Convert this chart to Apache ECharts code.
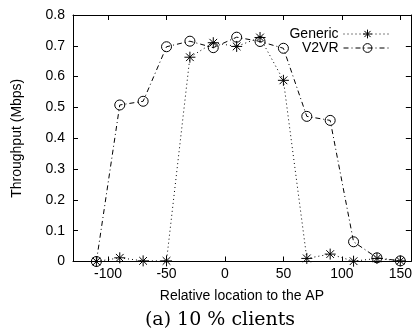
<!DOCTYPE html>
<html>
<head>
<meta charset="utf-8">
<script src="https://cdn.jsdelivr.net/npm/echarts@6/dist/echarts.min.js"></script>
<style>
  html, body { margin: 0; padding: 0; background: #fff; }
  #chart { width: 415px; height: 331px; }
</style>
</head>
<body>
<div id="chart"></div>
<script>
// relative location to the AP
var locations = [-110, -90, -70, -50, -30, -10, 10, 30, 50, 70, 90, 110, 130, 150];
// throughput (Mbps)
var generic = [0, 0.012, 0.002, 0.002, 0.663, 0.710, 0.698, 0.727, 0.588, 0.010, 0.024, 0.001, 0.010, 0.002];
var v2vr = [0, 0.508, 0.520, 0.697, 0.715, 0.694, 0.728, 0.714, 0.692, 0.471, 0.458, 0.064, 0.012, 0.002];
var xTicks = [-100, -50, 0, 50, 100, 150];

function pairs(ys) {
    return locations.map(function (x, i) { return [x, ys[i]]; });
}

var font = 'Liberation Sans';
var star = 'path://M0,-10L0,10M-10,0L10,0M-7,-7L7,7M-7,7L7,-7';

var myChart = echarts.init(document.getElementById('chart'));
var option = {
    animation: false,
    grid: { left: 73, top: 15, width: 340, height: 246.5 },
    legend: {
        orient: 'vertical',
        right: 18,
        top: 22,
        align: 'right',
        itemWidth: 48,
        itemHeight: 11,
        itemGap: 0,
        itemStyle: { color: 'rgba(0,0,0,0)', borderColor: '#000', borderWidth: 1 },
        lineStyle: { width: 1 },
        textStyle: { fontFamily: font, fontSize: 14, color: '#000' },
        data: ['Generic', 'V2VR']
    },
    xAxis: [{
        type: 'value', min: -130, max: 159,
        name: 'Relative location to the AP', nameLocation: 'middle', nameGap: 28,
        nameTextStyle: { fontFamily: font, fontSize: 14, color: '#000' },
        axisLine: { onZero: false, lineStyle: { color: '#000', width: 1 } },
        axisTick: { inside: true, length: 5, customValues: xTicks, lineStyle: { color: '#000' } },
        axisLabel: { customValues: xTicks, margin: 6, fontFamily: font, fontSize: 14, color: '#000' },
        splitLine: { show: false }
    }, {
        type: 'value', min: -130, max: 159, position: 'top',
        axisLine: { onZero: false, lineStyle: { color: '#000', width: 1 } },
        axisTick: { inside: true, length: 5, customValues: xTicks, lineStyle: { color: '#000' } },
        axisLabel: { show: false },
        splitLine: { show: false }
    }],
    yAxis: [{
        type: 'value', min: 0, max: 0.8, interval: 0.1,
        name: 'Throughput (Mbps)', nameLocation: 'middle', nameGap: 49,
        nameTextStyle: { fontFamily: font, fontSize: 14, color: '#000' },
        axisLine: { show: true, onZero: false, lineStyle: { color: '#000', width: 1 } },
        axisTick: { show: true, inside: true, length: 5, lineStyle: { color: '#000' } },
        axisLabel: { margin: 8, fontFamily: font, fontSize: 14, color: '#000' },
        splitLine: { show: false }
    }, {
        type: 'value', min: 0, max: 0.8, interval: 0.1, position: 'right',
        axisLine: { show: true, onZero: false, lineStyle: { color: '#000', width: 1 } },
        axisTick: { show: true, inside: true, length: 5, lineStyle: { color: '#000' } },
        axisLabel: { show: false },
        splitLine: { show: false }
    }],
    graphic: [{
        type: 'text', x: 220, y: 320,
        style: { text: '(a) 10 % clients', font: '19px "DejaVu Serif"', fill: '#000', align: 'center', verticalAlign: 'middle' }
    }],
    series: [{
        name: 'Generic', type: 'line', data: pairs(generic),
        symbol: star, symbolSize: 11,
        itemStyle: { color: '#000', borderColor: '#000', borderWidth: 1 },
        lineStyle: { color: '#000', width: 1, type: [1, 3] }
    }, {
        name: 'V2VR', type: 'line', data: pairs(v2vr),
        symbol: 'circle', symbolSize: 10,
        itemStyle: { color: 'rgba(0,0,0,0)', borderColor: '#000', borderWidth: 1 },
        lineStyle: { color: '#000', width: 1, type: [5, 3, 1, 3] }
    }]
};
myChart.setOption(option);
</script>
</body>
</html>
